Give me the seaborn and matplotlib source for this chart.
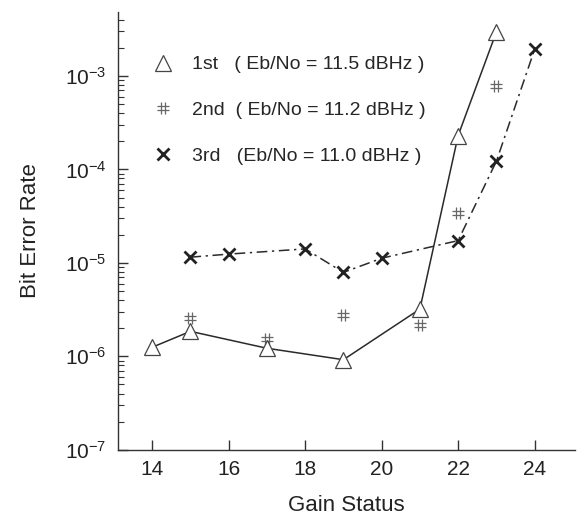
import numpy as np
import pandas as pd
import matplotlib
matplotlib.use("Agg")
import matplotlib.pyplot as plt
import seaborn as sns
from matplotlib.path import Path
from matplotlib.lines import Line2D
from matplotlib.ticker import LogLocator, LogFormatterSciNotation, NullFormatter

# ---- data ----
x_1st = [14, 15, 17, 19, 21, 22, 23]
ber_1st = [1.25e-6, 1.85e-6, 1.22e-6, 0.92e-6, 3.2e-6, 2.3e-4, 2.95e-3]

x_2nd = [15, 17, 19, 21, 22, 23]
ber_2nd = [2.6e-6, 1.55e-6, 2.8e-6, 2.15e-6, 3.4e-5, 7.8e-4]

x_3rd = [15, 16, 18, 19, 20, 22, 23, 24]
ber_3rd = [1.15e-5, 1.24e-5, 1.41e-5, 7.9e-6, 1.12e-5, 1.73e-5, 1.22e-4, 1.92e-3]

labels = ["1st   ( Eb/No = 11.5 dBHz )",
          "2nd  ( Eb/No = 11.2 dBHz )",
          "3rd   (Eb/No = 11.0 dBHz )"]
x_ticks = [14, 16, 18, 20, 22, 24]

sns.set_style("ticks")
plt.rcParams["font.family"] = ["Liberation Sans", "DejaVu Sans"]
plt.rcParams["mathtext.default"] = "regular"

# custom "#"-like marker (two vertical and two horizontal strokes)
hash_path = Path(
    [(-0.35, -1), (-0.35, 1), (0.35, -1), (0.35, 1),
     (-1, -0.35), (1, -0.35), (-1, 0.35), (1, 0.35)],
    [Path.MOVETO, Path.LINETO, Path.MOVETO, Path.LINETO,
     Path.MOVETO, Path.LINETO, Path.MOVETO, Path.LINETO])

fig = plt.figure(figsize=(5.8, 5.2), dpi=100)
ax = fig.add_axes([0.203, 0.135, 0.788, 0.842])

line_col = "#2a2a2a"
df1 = pd.DataFrame({"x": x_1st, "y": ber_1st})
df2 = pd.DataFrame({"x": x_2nd, "y": ber_2nd})
df3 = pd.DataFrame({"x": x_3rd, "y": ber_3rd})

sns.lineplot(data=df1, x="x", y="y", ax=ax, color=line_col, linewidth=1.1,
             marker="^", markersize=12, markerfacecolor="white",
             markeredgecolor="#444444", markeredgewidth=0.9)
sns.lineplot(data=df3, x="x", y="y", ax=ax, color=line_col, linewidth=1.1,
             linestyle=(0, (7, 3, 1.5, 3)),
             marker="x", markersize=9, markeredgecolor="#222222", markeredgewidth=2.0)
sns.scatterplot(data=df2, x="x", y="y", ax=ax, marker=hash_path, s=70,
                color="#666666", linewidth=0.9, edgecolor="#666666")

ax.set_yscale("log")
ax.set_xlim(13.1, 25.05)
ax.set_ylim(1e-7, 10 ** -2.316)
ax.set_xticks(x_ticks)
ax.yaxis.set_major_locator(LogLocator(base=10, numticks=10))
ax.yaxis.set_major_formatter(LogFormatterSciNotation())
ax.yaxis.set_minor_locator(LogLocator(base=10, subs=np.arange(2, 10), numticks=20))
ax.yaxis.set_minor_formatter(NullFormatter())

ax.tick_params(axis="both", which="major", direction="in", length=7, width=1,
               labelsize=15, color="#333333", labelcolor="#222222")
ax.tick_params(axis="y", which="minor", direction="in", length=4, width=0.8, color="#333333")
ax.tick_params(axis="x", which="major", pad=7)
ax.tick_params(axis="y", which="major", pad=8)
sns.despine(ax=ax)
for s in ["left", "bottom"]:
    ax.spines[s].set_color("#333333")
    ax.spines[s].set_linewidth(1)

ax.set_xlabel("Gain Status", fontsize=16, labelpad=12, color="#222222")
ax.set_ylabel("Bit Error Rate", fontsize=16, labelpad=17, color="#222222")

handles = [
    Line2D([], [], linestyle="none", marker="^", markersize=12, markerfacecolor="white",
           markeredgecolor="#444444", markeredgewidth=0.9),
    Line2D([], [], linestyle="none", marker=hash_path, markersize=9,
           markeredgecolor="#666666", markerfacecolor="none", markeredgewidth=0.9),
    Line2D([], [], linestyle="none", marker="x", markersize=9,
           markeredgecolor="#222222", markeredgewidth=2.0),
]
leg = ax.legend(handles, labels, loc="upper left", bbox_to_anchor=(0.04, 0.94),
                frameon=False, fontsize=14, labelspacing=1.45, handlelength=1.0,
                handletextpad=1.0)

fig.savefig("out.png", dpi=100)
